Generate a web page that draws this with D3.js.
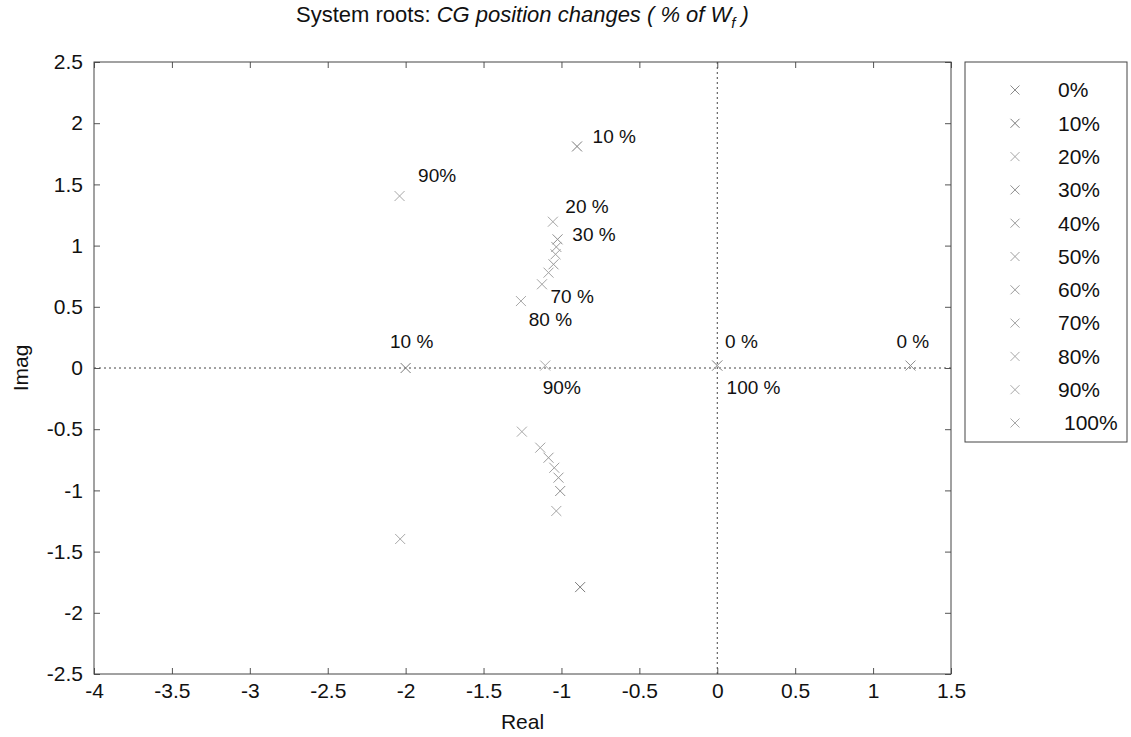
<!DOCTYPE html>
<html>
<head>
<meta charset="utf-8">
<script src="https://cdn.jsdelivr.net/npm/d3@7"></script>
<style>
  body { margin: 0; background: #fff; }
  text { font-family: "Liberation Sans", Arial, Helvetica, sans-serif; fill: #111; }
</style>
</head>
<body>
<svg id="chart" width="1131" height="737"></svg>
<script>
// CG position, as a percentage of the fuel weight
const seriesNames = ["0%", "10%", "20%", "30%", "40%", "50%", "60%", "70%", "80%", "90%", "100%"];

// System roots for each CG position, as [real, imag]
const roots0   = [[0.00, 0.02], [1.24, 0.02]];
const roots10  = [[-0.90, 1.81], [-0.88, -1.79], [-2.00, 0.00]];
const roots20  = [[-1.055, 1.195], [-1.033, -1.168]];
const roots30  = [[-1.025, 1.051], [-1.008, -1.005]];
const roots40  = [[-1.033, 0.989], [-1.019, -0.896]];
const roots50  = [[-1.038, 0.929], [-1.046, -0.815]];
const roots60  = [[-1.051, 0.847], [-1.083, -0.733]];
const roots70  = [[-1.083, 0.779], [-1.125, 0.684], [-1.136, -0.651]];
const roots80  = [[-1.26, 0.547], [-1.254, -0.52]];
const roots90  = [[-2.039, 1.405], [-2.035, -1.397], [-1.104, 0.02]];
const roots100 = [[0.00, 0.02]];

const seriesRoots = [roots0, roots10, roots20, roots30, roots40, roots50,
                     roots60, roots70, roots80, roots90, roots100];

// Marker shades for the series
const seriesColors = ["#8c8c8c", "#7a7a7a", "#a6a6a6", "#8f8f8f", "#9a9a9a", "#a0a0a0",
                      "#9a9a9a", "#a3a3a3", "#a8a8a8", "#a8a8a8", "#a8a8a8"];

// Axis ticks
const xTicks = [-4, -3.5, -3, -2.5, -2, -1.5, -1, -0.5, 0, 0.5, 1, 1.5];
const yTicks = [-2.5, -2, -1.5, -1, -0.5, 0, 0.5, 1, 1.5, 2, 2.5];

// Root annotations, placed at [real, imag]
const noteTexts = ["10 %", "20 %", "30 %", "70 %", "80 %", "90%", "10 %", "90%", "0 %", "100 %", "0 %"];
const noteRe    = [-0.80, -0.975, -0.93, -1.07, -1.21, -1.92, -2.10, -1.12, 0.05, 0.06, 1.15];
const noteIm    = [1.89, 1.32, 1.09, 0.585, 0.40, 1.575, 0.22, -0.155, 0.22, -0.16, 0.22];

const svg = d3.select("#chart");
svg.append("rect").attr("width", 1131).attr("height", 737).attr("fill", "#fff");

const plot = { left: 94, right: 951, top: 62, bottom: 674 };
const x = d3.scaleLinear().domain([-4, 1.5]).range([plot.left, plot.right]);
const y = d3.scaleLinear().domain([-2.5, 2.5]).range([plot.bottom, plot.top]);
const fmt = d => String(d);

// Zero reference lines
svg.append("line")
  .attr("x1", plot.left).attr("x2", plot.right)
  .attr("y1", y(0)).attr("y2", y(0))
  .attr("stroke", "#444").attr("stroke-width", 1).attr("stroke-dasharray", "2,3");
svg.append("line")
  .attr("x1", x(0)).attr("x2", x(0))
  .attr("y1", plot.top).attr("y2", plot.bottom)
  .attr("stroke", "#444").attr("stroke-width", 1).attr("stroke-dasharray", "2,3");

// Axes with inward ticks on all four sides
const tickLen = 6;
const gx = svg.append("g").attr("transform", `translate(0,${plot.bottom})`)
  .call(d3.axisBottom(x).tickValues(xTicks).tickFormat(fmt).tickSize(-tickLen).tickPadding(9));
const gxTop = svg.append("g").attr("transform", `translate(0,${plot.top})`)
  .call(d3.axisTop(x).tickValues(xTicks).tickFormat("").tickSize(-tickLen));
const gy = svg.append("g").attr("transform", `translate(${plot.left},0)`)
  .call(d3.axisLeft(y).tickValues(yTicks).tickFormat(fmt).tickSize(-tickLen).tickPadding(11));
const gyRight = svg.append("g").attr("transform", `translate(${plot.right},0)`)
  .call(d3.axisRight(y).tickValues(yTicks).tickFormat("").tickSize(-tickLen));

[gx, gxTop, gy, gyRight].forEach(g => {
  g.select(".domain").remove();
  g.selectAll(".tick line").attr("stroke", "#555");
  g.selectAll(".tick text").attr("font-size", 21).attr("fill", "#111")
    .style("font-family", "'Liberation Sans', Arial, sans-serif");
});

svg.append("rect")
  .attr("x", plot.left).attr("y", plot.top)
  .attr("width", plot.right - plot.left).attr("height", plot.bottom - plot.top)
  .attr("fill", "none").attr("stroke", "#444").attr("stroke-width", 1);

// Cross marker path centred on (0,0)
const cross = s => `M${-s},${-s}L${s},${s}M${-s},${s}L${s},${-s}`;

// Roots
seriesRoots.forEach((pts, i) => {
  svg.append("g").selectAll("path")
    .data(pts)
    .join("path")
    .attr("transform", d => `translate(${x(d[0])},${y(d[1])})`)
    .attr("d", cross(5))
    .attr("fill", "none")
    .attr("stroke", seriesColors[i])
    .attr("stroke-width", 1);
});

// Annotations
svg.append("g").selectAll("text")
  .data(noteTexts)
  .join("text")
  .attr("x", (d, i) => x(noteRe[i]))
  .attr("y", (d, i) => y(noteIm[i]))
  .attr("dy", "0.35em")
  .attr("font-size", 19)
  .text(d => d);

// Title
const title = svg.append("text")
  .attr("x", (plot.left + plot.right) / 2)
  .attr("y", 22)
  .attr("text-anchor", "middle")
  .attr("font-size", 22);
title.append("tspan").text("System roots: ");
title.append("tspan").attr("font-style", "italic").text("CG position changes ( % of W");
title.append("tspan").attr("font-style", "italic").attr("font-size", 15).attr("dy", 6).text("f");
title.append("tspan").attr("font-style", "italic").attr("dy", -6).text(" )");

// Axis labels
svg.append("text")
  .attr("x", (plot.left + plot.right) / 2)
  .attr("y", 722)
  .attr("dy", "0.35em")
  .attr("text-anchor", "middle")
  .attr("font-size", 21)
  .text("Real");
svg.append("text")
  .attr("transform", `translate(21,${(plot.top + plot.bottom) / 2}) rotate(-90)`)
  .attr("dy", "0.35em")
  .attr("text-anchor", "middle")
  .attr("font-size", 21)
  .text("Imag");

// Legend
const legend = { left: 965, top: 62, width: 162, height: 380, rowTop: 90, rowStep: 33.3 };
svg.append("rect")
  .attr("x", legend.left).attr("y", legend.top)
  .attr("width", legend.width).attr("height", legend.height)
  .attr("fill", "#fff").attr("stroke", "#444").attr("stroke-width", 1);

const rows = svg.append("g").selectAll("g")
  .data(seriesNames)
  .join("g")
  .attr("transform", (d, i) => `translate(0,${legend.rowTop + i * legend.rowStep})`);
rows.append("path")
  .attr("transform", "translate(1015,0)")
  .attr("d", cross(4.5))
  .attr("fill", "none")
  .attr("stroke", (d, i) => seriesColors[i])
  .attr("stroke-width", 1);
rows.append("text")
  .attr("x", (d, i) => i === 10 ? 1064 : 1058)
  .attr("dy", "0.35em")
  .attr("font-size", 21)
  .text(d => d);
</script>
</body>
</html>
